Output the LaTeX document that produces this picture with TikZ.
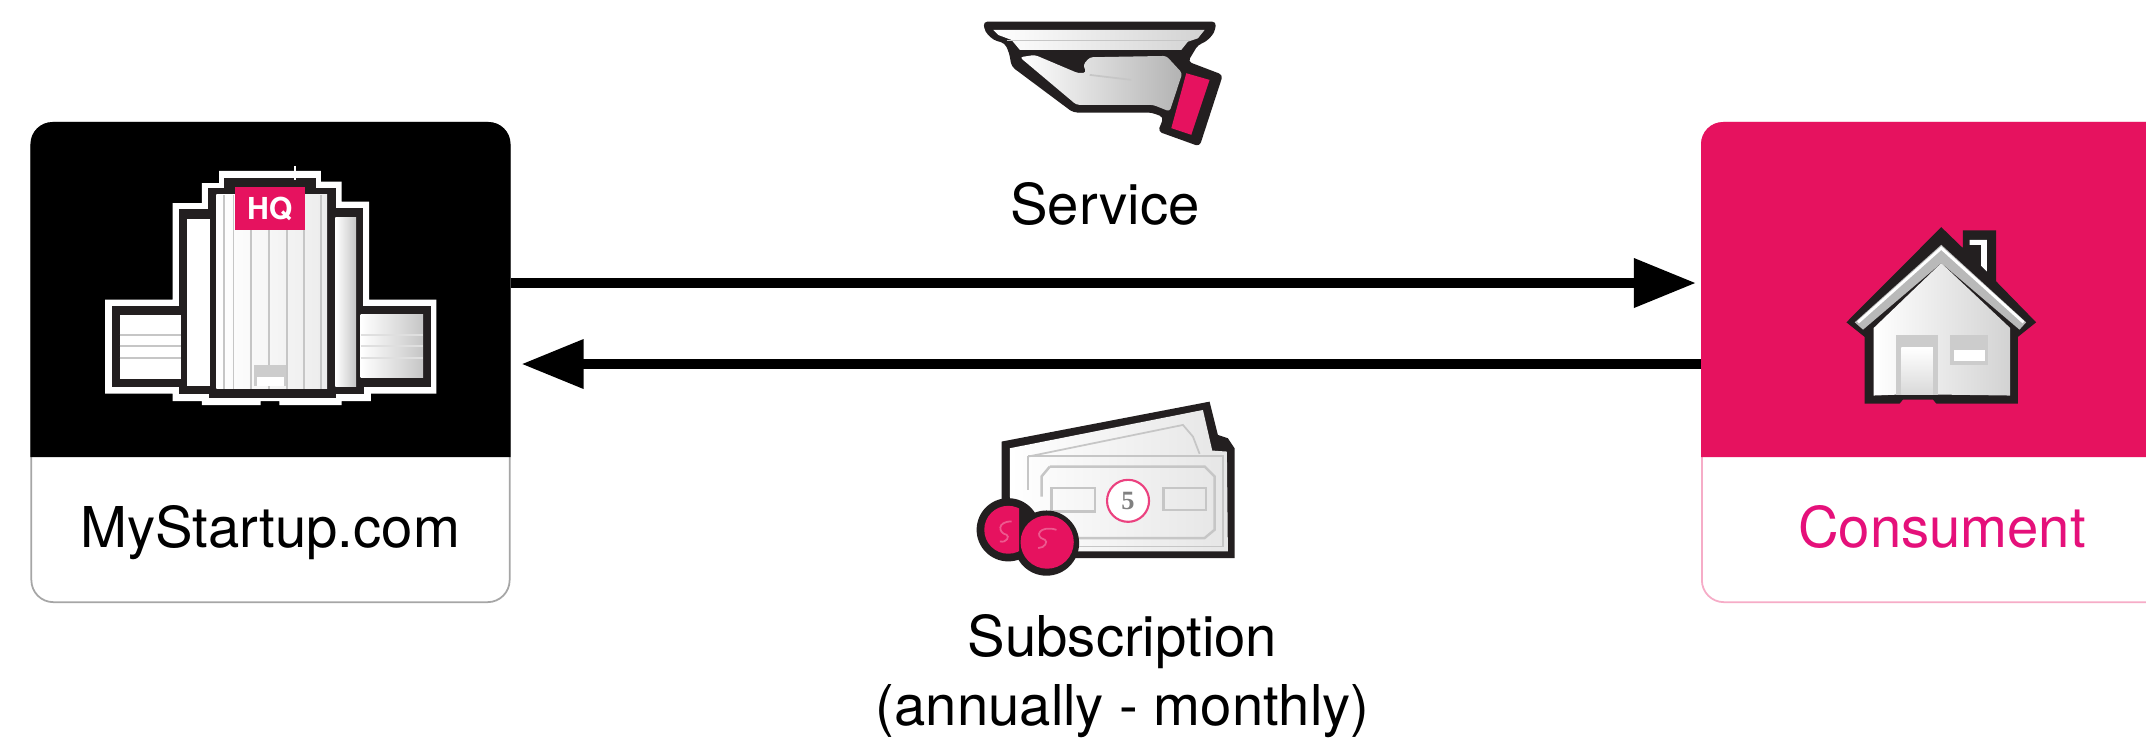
\documentclass[tikz,border=0pt]{standalone}
\usepackage{fontspec}
\setmainfont{TeX Gyre Heros}
\newfontfamily\noteFont{Liberation Serif}
\usetikzlibrary{arrows.meta, calc}

\definecolor{brandPink}{HTML}{E6125F}
\definecolor{brandText}{HTML}{E5107A}
\definecolor{iconInk}{HTML}{231F20}

\begin{document}
\begin{tikzpicture}[
    x=0.01cm, y=-0.01cm, % one unit is one pixel of the reference
    >={Triangle[length=0.62cm, width=0.47cm]},
    cardBox/.style={rounded corners=0.22cm, minimum width=4.78cm, minimum height=4.79cm, fill=white, line width=0.5pt},
    cardText/.style={font=\fontsize{16pt}{19.4pt}\selectfont, inner sep=0pt},
    flowLine/.style={->, line width=0.1cm, black},
    iconLine/.style={gray!45, line width=0.5pt},
    iconScale/.style={x=0.003333cm, y=-0.003333cm}
]

    % === DEFINITIONS & COORDINATES ===
    \def\headerY{457}   % Lower edge of the coloured card headers
    \useasboundingbox (0,0) rectangle (2146,738);
    \fill[white] (0,0) rectangle (2146,738);


    % === 1. THE TWO CARDS ===
    \node[cardBox, draw=gray!70] (startupBox) at (270.5,362.5) {};
    \fill[black] (startupBox.west |- 0,\headerY) [rounded corners=0.22cm]
        -- (startupBox.north west) -- (startupBox.north east) [sharp corners]
        -- (startupBox.east |- 0,\headerY) -- cycle;
    \node[cardText, anchor=base] (startupLabel) at (270,547) {MyStartup.com};

    \node[cardBox, draw=brandPink!35] (consumentBox) at (1941,362.5) {};
    \fill[brandPink] (consumentBox.west |- 0,\headerY) [rounded corners=0.22cm]
        -- (consumentBox.north west) -- (consumentBox.north east) [sharp corners]
        -- (consumentBox.east |- 0,\headerY) -- cycle;
    \node[cardText, anchor=base, brandText] (consumentLabel) at (1942,547) {Consument};


    % === 2. THE FLOWS ===
    \draw[flowLine, shorten >=0.05cm] ($(startupBox.east)+(0,-79.5)$) -- ($(consumentBox.west)+(0,-79.5)$);
    \draw[flowLine, shorten >=0.11cm] ($(consumentBox.west)+(0,1.5)$) -- ($(startupBox.east)+(0,1.5)$);

    \node[cardText, anchor=base] (serviceLabel) at (1105,224) {Service};
    \node[cardText, align=center] (subscriptionLabel) at (1122.5,676) {Subscription\\(annually - monthly)};


    % === 3. HEADQUARTERS ICON ===
    \begin{scope}[shift={(0,100)}, iconScale, x=0.003444cm]
        \fill[white] (305,600) -- (500,600) -- (500,310) -- (585,310) -- (585,250) -- (635,250) -- (635,213)
            -- (930,213) -- (930,245) -- (990,245) -- (990,305) -- (1070,305) -- (1070,600) -- (1265,600)
            -- (1265,882) -- (1075,882) -- (1075,905) -- (990,905) -- (990,917) -- (810,917) -- (810,905)
            -- (755,905) -- (755,917) -- (585,917) -- (585,905) -- (500,905) -- (500,882) -- (305,882) -- cycle;
        \filldraw[iconInk, line width=0.03cm] (330,622) -- (522,622) -- (522,332) -- (608,332) -- (608,270) -- (655,270) -- (655,238)
            -- (912,238) -- (912,268) -- (970,268) -- (970,328) -- (1048,328) -- (1048,622) -- (1245,622)
            -- (1245,858) -- (1050,858) -- (1050,880) -- (970,880) -- (970,890) -- (610,890) -- (610,880)
            -- (522,880) -- (522,858) -- (330,858) -- cycle;
        % Wings with their floors
        \fill[white] (347,645) rectangle (525,838);
        \shade[left color=white, right color=gray!45] (1045,645) rectangle (1226,835);
        \foreach \y in {705,740,775} {
            \draw[iconLine] (347,\y) -- (525,\y);
            \draw[iconLine, gray!25] (1045,\y) -- (1226,\y);
        }
        % Side shafts
        \fill[white] (542,358) rectangle (608,860);
        \shade[left color=white, right color=gray!45] (972,352) rectangle (1032,860);
        % Tower
        \shade[left color=white, right color=gray!15] (627,285) rectangle (948,868);
        \foreach \x in {650,677,727,780,832,882,930} {
            \draw[iconLine] (\x,285) -- (\x,868);
        }
        \fill[gray!40] (735,795) rectangle (830,860);
        \fill[white] (745,832) rectangle (822,860);
        \node[fill=brandPink, text=white, font=\fontsize{8.6pt}{9pt}\selectfont\bfseries, minimum width=0.7cm, minimum height=0.43cm, inner sep=0pt] (hqBadge) at (782,327) {HQ};
        \draw[white, line width=0.4pt] (855,198) -- (855,240);
    \end{scope}


    % === 4. SERVING HAND ICON ===
    \begin{scope}[shift={(940,0)}, iconScale]
        \fill[iconInk, rounded corners=0.04cm] (130,65) -- (830,65) -- (825,98) -- (800,125) -- (775,135) -- (745,185) -- (850,225)
            -- (780,440) -- (655,395) -- (672,352) -- (635,338) -- (400,338) -- (215,200) -- (208,160)
            -- (195,130) -- (160,120) -- (135,95) -- cycle;
        % Plate
        \shade[left color=white, right color=gray!35] (160,90) -- (795,90) -- (775,115) -- (745,125)
            -- (725,150) -- (240,150) -- (215,120) -- (175,105) -- cycle;
        \draw[iconLine] (200,122) -- (750,122);
        % Hand
        \shade[left color=white, middle color=white, right color=gray!60, rounded corners=0.03cm] (240,172) -- (285,165) -- (415,220)
            -- (440,218) -- (430,195) -- (450,172) -- (680,168) -- (728,220) -- (690,335) -- (640,315)
            -- (410,315) -- cycle;
        \draw[iconLine] (450,225) -- (575,240);
        % Cuff
        \fill[brandPink] (740,220) -- (810,240) -- (755,405) -- (695,385) -- cycle;
    \end{scope}


    % === 5. BANK NOTES AND COINS ICON ===
    \begin{scope}[shift={(940,380)}, iconScale]
        \fill[iconInk] (185,185) -- (810,65) -- (835,165) -- (865,175) -- (885,205) -- (885,535) -- (380,535)
            -- (185,400) -- cycle;
        \shade[left color=white, right color=gray!20] (210,205) -- (790,90) -- (818,212) -- (862,215)
            -- (865,515) -- (240,515) -- (210,350) -- cycle;
        % Back note
        \draw[iconLine] (265,230) -- (730,135) -- (760,170) -- (780,222);
        % Front note
        \draw[iconLine] (265,228) -- (850,228) -- (850,500) -- (400,500);
        \draw[iconLine] (265,228) -- (265,330);
        \draw[iconLine, line width=0.7pt] (330,260) -- (795,260) -- (825,290) -- (825,450) -- (795,475)
            -- (400,475);
        \draw[iconLine, line width=0.7pt] (330,260) -- (305,290) -- (305,350);
        \draw[iconLine, line width=0.7pt] (335,325) rectangle (465,395);
        \draw[iconLine, line width=0.7pt] (672,325) rectangle (800,390);
        \node[circle, draw=brandPink!80, fill=white, line width=0.6pt, minimum size=0.42cm, inner sep=0pt, font=\noteFont\fontsize{7.5pt}{8pt}\selectfont\bfseries, text=gray] (noteValue) at (565,363) {5};
        % Coins
        \fill[iconInk] (205,450) circle (95);
        \fill[iconInk] (320,490) circle (98);
        \begin{scope}
            \clip (130,360) rectangle (238,540);
            \fill[brandPink] (205,450) circle (72);
        \end{scope}
        \fill[brandPink] (322,487) circle (80);
        \draw[brandPink!70!white, line width=0.5pt] (215,425) .. controls (170,425) and (175,460) .. (200,465) .. controls (210,470) and (200,490) .. (180,485);
        \draw[brandPink!70!white, line width=0.5pt] (350,450) .. controls (300,435) and (280,470) .. (315,480) .. controls (325,485) and (315,505) .. (295,505);
    \end{scope}


    % === 6. HOUSE ICON ===
    \begin{scope}[shift={(1680,100)}, iconScale]
        \fill[iconInk] (785,382) -- (850,445) -- (850,392) -- (950,392) -- (950,545) -- (1070,668) -- (1015,712)
            -- (1015,912) -- (770,912) -- (760,900) -- (670,900) -- (660,912) -- (555,912) -- (555,712)
            -- (500,668) -- cycle;
        % Chimney highlight
        \fill[white] (870,420) -- (922,420) -- (922,515) -- (905,498) -- (905,435) -- (870,435) -- cycle;
        % Body
        \shade[left color=white, right color=gray!35] (785,490) -- (992,685) -- (992,888) -- (772,885)
            -- (660,885) -- (582,888) -- (582,685) -- cycle;
        % Roof band
        \fill[gray!55] (785,435) -- (1040,668) -- (1020,690) -- (785,490) -- (550,690) -- (525,668) -- cycle;
        \draw[white, line width=0.8pt] (535,668) -- (785,445) -- (1032,668);
        % Door
        \fill[gray!40] (650,705) rectangle (775,885);
        \shade[top color=white, bottom color=gray!30] (665,745) rectangle (760,885);
        % Window
        \fill[gray!40] (810,705) rectangle (925,795);
        \fill[white] (822,750) rectangle (915,785);
    \end{scope}

\end{tikzpicture}
\end{document}
